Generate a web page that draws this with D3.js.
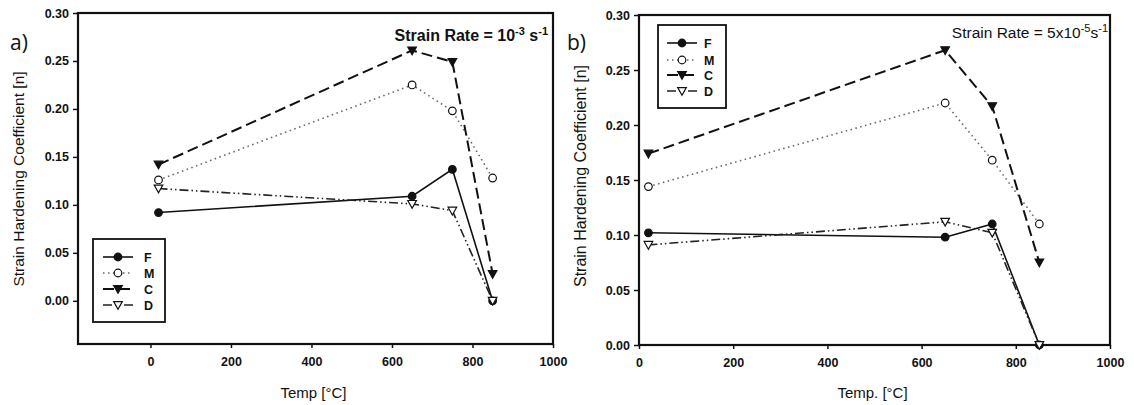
<!DOCTYPE html>
<html>
<head>
<meta charset="utf-8">
<script src="https://cdn.jsdelivr.net/npm/d3@7"></script>
<style>
  body { margin: 0; background: #fff; }
  svg { display: block; font-family: "Liberation Sans", Arial, sans-serif; }
</style>
</head>
<body>
<svg id="chart" width="1134" height="405"></svg>
<script>
// Strain hardening coefficient vs temperature, two strain rates

const temps = [20, 650, 750, 850];
const seriesKeys = ['F', 'M', 'C', 'D'];

// panel a) strain rate 1e-3
const aF = [0.092, 0.109, 0.137, 0.000];
const aM = [0.126, 0.225, 0.198, 0.128];
const aC = [0.142, 0.261, 0.249, 0.028];
const aD = [0.117, 0.101, 0.094, 0.000];

// panel b) strain rate 5e-5
const bF = [0.102, 0.098, 0.110, 0.000];
const bM = [0.144, 0.220, 0.168, 0.110];
const bC = [0.174, 0.268, 0.217, 0.075];
const bD = [0.091, 0.112, 0.102, 0.000];

const xTicks = [0, 200, 400, 600, 800, 1000];
const yTicks = [0, 0.05, 0.10, 0.15, 0.20, 0.25, 0.30];

const STYLE = {
    F: { dash: null, width: 1.6, color: '#111', marker: 'circle', fill: '#111' },
    M: { dash: '1.5,3.5', width: 1.6, color: '#666', marker: 'circle', fill: '#fff' },
    C: { dash: '11,5', width: 2, color: '#111', marker: 'tri', fill: '#111' },
    D: { dash: '9,3,1.5,3,1.5,3', width: 1.6, color: '#222', marker: 'tri', fill: '#fff' }
};

const svg = d3.select('#chart');

function drawPanel(cfg) {
    const x = d3.scaleLinear().domain(cfg.xDomain).range([cfg.left, cfg.right]);
    const y = d3.scaleLinear().domain(cfg.yDomain).range([cfg.bottom, cfg.top]);
    const g = svg.append('g');

    // axes
    const xAxis = g.append('g')
        .attr('transform', `translate(0,${cfg.bottom})`)
        .call(d3.axisBottom(x).tickValues(xTicks).tickSize(4).tickPadding(9).tickFormat(d3.format('d')));
    const yAxis = g.append('g')
        .attr('transform', `translate(${cfg.left},0)`)
        .call(d3.axisLeft(y).tickValues(yTicks).tickSize(5).tickPadding(4).tickFormat(d3.format('.2f')));
    [xAxis, yAxis].forEach(ax => {
        ax.select('.domain').remove();
        ax.selectAll('.tick line').attr('stroke', '#111').attr('stroke-width', 1.5);
        ax.selectAll('.tick text')
            .attr('fill', '#111')
            .style('font-size', '12.5px')
            .style('font-weight', 'bold')
            .style('font-family', '"Liberation Sans", Arial, sans-serif');
    });

    // frame
    g.append('rect')
        .attr('x', cfg.left).attr('y', cfg.top)
        .attr('width', cfg.right - cfg.left).attr('height', cfg.bottom - cfg.top)
        .attr('fill', 'none').attr('stroke', '#111').attr('stroke-width', 2.2);

    // series
    const line = d3.line().x(d => x(d[0])).y(d => y(d[1]));
    cfg.series.forEach((vals, i) => {
        const key = seriesKeys[i];
        const st = STYLE[key];
        const pts = temps.map((t, j) => [t, vals[j]]);
        g.append('path')
            .attr('d', line(pts))
            .attr('fill', 'none')
            .attr('stroke', st.color)
            .attr('stroke-width', st.width)
            .attr('stroke-dasharray', st.dash);
        pts.forEach(p => drawMarker(g, key, x(p[0]), y(p[1])));
    });

    // title (strain rate)
    const t = g.append('text')
        .attr('x', cfg.titleX).attr('y', cfg.titleY)
        .attr('text-anchor', 'end')
        .attr('fill', '#111')
        .style('font-size', cfg.titleSize + 'px')
        .style('font-weight', cfg.titleBold ? 'bold' : 'normal');
    t.append('tspan').text(cfg.titlePre);
    t.append('tspan').attr('baseline-shift', 'super').style('font-size', '11px').text(cfg.titleExp1);
    t.append('tspan').text(cfg.titleMid);
    t.append('tspan').attr('baseline-shift', 'super').style('font-size', '11px').text('-1');

    // axis titles
    g.append('text')
        .attr('x', (cfg.left + cfg.right) / 2 - 2)
        .attr('y', 398)
        .attr('text-anchor', 'middle')
        .attr('fill', '#111')
        .style('font-size', '15px')
        .text(cfg.xLabel);
    g.append('text')
        .attr('transform', `translate(${cfg.yLabelX},${cfg.yLabelY}) rotate(-90)`)
        .attr('text-anchor', 'middle')
        .attr('fill', '#111')
        .style('font-size', cfg.yLabelSize + 'px')
        .text('Strain Hardening Coefficient [n]');

    // panel letter
    g.append('text')
        .attr('x', cfg.letterX).attr('y', 50)
        .attr('fill', '#111')
        .style('font-family', '"Open Sans", sans-serif')
        .style('font-size', '21px')
        .text(cfg.letter);

    // legend
    const L = cfg.legend;
    g.append('rect')
        .attr('x', L.x).attr('y', L.y).attr('width', L.w).attr('height', L.h)
        .attr('fill', '#fff').attr('stroke', '#111').attr('stroke-width', 1.8);
    seriesKeys.forEach((key, i) => {
        const st = STYLE[key];
        const yy = L.rows[i];
        g.append('line')
            .attr('x1', L.lx0).attr('x2', L.lx1).attr('y1', yy).attr('y2', yy)
            .attr('stroke', st.color).attr('stroke-width', st.width)
            .attr('stroke-dasharray', st.dash);
        drawMarker(g, key, (L.lx0 + L.lx1) / 2, yy);
        g.append('text')
            .attr('x', L.tx).attr('y', yy + 4.5)
            .attr('fill', '#111')
            .style('font-size', '12.5px')
            .style('font-weight', 'bold')
            .text(key);
    });
}

function drawMarker(g, key, cx, cy) {
    const st = STYLE[key];
    if (st.marker === 'circle') {
        g.append('circle')
            .attr('cx', cx).attr('cy', cy).attr('r', 3.8)
            .attr('fill', st.fill).attr('stroke', '#111').attr('stroke-width', 1.2);
    } else {
        const s = 4.3;
        g.append('path')
            .attr('d', `M${cx - s},${cy - s * 0.8}L${cx + s},${cy - s * 0.8}L${cx},${cy + s}Z`)
            .attr('fill', st.fill).attr('stroke', '#111').attr('stroke-width', 1.2);
    }
}

drawPanel({
    letter: 'a)', letterX: 10,
    left: 78, right: 553, top: 13, bottom: 344,
    xDomain: [-180, 1000], yDomain: [-0.045, 0.30],
    series: [aF, aM, aC, aD],
    titleX: 548, titleY: 41, titleBold: true, titleSize: 16,
    titlePre: 'Strain Rate = 10', titleExp1: '-3', titleMid: ' s',
    xLabel: 'Temp [°C]', yLabelX: 24, yLabelY: 179, yLabelSize: 15.5,
    legend: { x: 93, y: 239, w: 72, h: 83, rows: [257, 273, 289, 305], lx0: 103, lx1: 133, tx: 144 }
});

drawPanel({
    letter: 'b)', letterX: 567,
    left: 639, right: 1110, top: 15, bottom: 345,
    xDomain: [0, 1000], yDomain: [0, 0.30],
    series: [bF, bM, bC, bD],
    titleX: 1108, titleY: 38, titleBold: false, titleSize: 15.5,
    titlePre: 'Strain Rate = 5x10', titleExp1: '-5', titleMid: 's',
    xLabel: 'Temp. [°C]', yLabelX: 586, yLabelY: 176, yLabelSize: 16,
    legend: { x: 658, y: 25, w: 68, h: 83, rows: [43, 60, 75, 91], lx0: 667, lx1: 697, tx: 704 }
});
</script>
</body>
</html>
